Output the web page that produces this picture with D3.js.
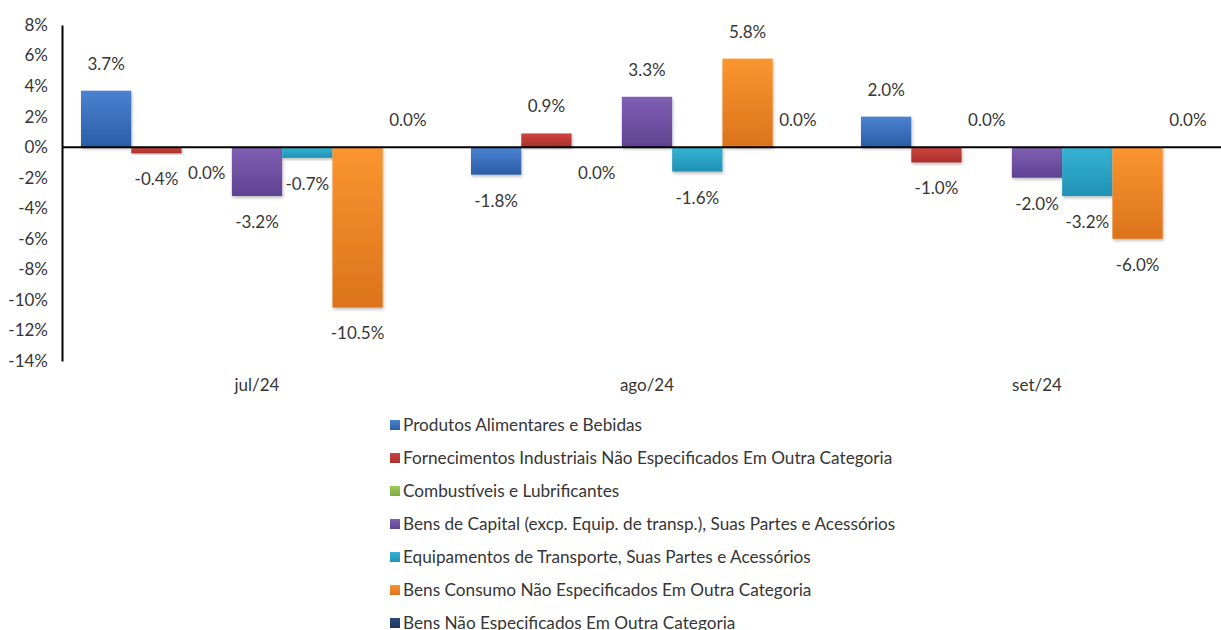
<!DOCTYPE html>
<meta charset="utf-8">
<style>
    body { margin: 0; background: #fff; }
    text { font-family: Lato, "Liberation Sans", sans-serif; fill: #363636; }
    .axis text { font-size: 17px; }
    .axis path { stroke: #000; stroke-width: 2; }
    .value { font-size: 17px; }
    .cat { font-size: 17px; }
    .legend text { font-size: 17.2px; }
</style>
<body>
<script src="https://cdn.jsdelivr.net/npm/d3@7"></script>
<script>

    var months = ["jul/24", "ago/24", "set/24"];

    var series = [
        "Produtos Alimentares e Bebidas",
        "Fornecimentos Industriais Não Especificados Em Outra Categoria",
        "Combustíveis e Lubrificantes",
        "Bens de Capital (excp. Equip. de transp.), Suas Partes e Acessórios",
        "Equipamentos de Transporte, Suas Partes e Acessórios",
        "Bens Consumo Não Especificados Em Outra Categoria",
        "Bens Não Especificados Em Outra Categoria"
    ];

    // one array per month, in series order (0.0 values keep the side their label sits on)
    var jul = [3.7, -0.4, -0.01, -3.2, -0.7, -10.5, 0.01];
    var ago = [-1.8, 0.9, -0.01, 3.3, -1.6, 5.8, 0.01];
    var set = [2.0, -1.0, 0.01, -2.0, -3.2, -6.0, 0.01];

    var yTicks = [-14, -12, -10, -8, -6, -4, -2, 0, 2, 4, 6, 8];

    var colors = [
        ["#4b82d0", "#2a5da6"],
        ["#d0443f", "#a8302c"],
        ["#9cc85a", "#7fae3e"],
        ["#8060b4", "#5f4290"],
        ["#35b3d4", "#2192b4"],
        ["#fb9530", "#dc731c"],
        ["#284a7e", "#1a355e"]
    ];

    var values = [jul, ago, set];

    var width = 1221, height = 630;

    var y = d3.scaleLinear()
            .domain([-14, 8])
            .range([361, 25]);

    var x0 = d3.scaleBand()
            .domain(months)
            .range([62, 62 + 3 * 390]);

    var x1 = d3.scaleBand()
            .domain(d3.range(series.length))
            .range([19, 371]);

    var svg = d3.select("body").append("svg")
            .attr("width", width)
            .attr("height", height);

    var defs = svg.append("defs");

    colors.forEach(function(c, i) {
        var g = defs.append("linearGradient")
                .attr("id", "grad" + i)
                .attr("x1", 0).attr("y1", 0).attr("x2", 0).attr("y2", 1);
        g.append("stop").attr("offset", "0%").attr("stop-color", c[0]);
        g.append("stop").attr("offset", "100%").attr("stop-color", c[1]);
    });

    defs.append("filter")
            .attr("id", "shadow")
            .attr("x", "-20%").attr("y", "-20%")
            .attr("width", "140%").attr("height", "140%")
        .append("feDropShadow")
            .attr("dx", 1).attr("dy", 2)
            .attr("stdDeviation", 1.5)
            .attr("flood-color", "#000")
            .attr("flood-opacity", 0.25);

    var fmt = function(v) { return Math.abs(v).toFixed(1) === "0.0" ? "0.0%" : v.toFixed(1) + "%"; };

    var groups = svg.append("g")
            .selectAll("g")
            .data(months)
        .enter().append("g")
            .attr("transform", function(m) { return "translate(" + x0(m) + ",0)"; });

    groups.selectAll("rect")
            .data(function(m, mi) { return values[mi].map(function(v, si) { return {s: si, v: v}; }); })
        .enter().append("rect")
            .attr("x", function(d) { return x1(d.s); })
            .attr("y", function(d) { return y(Math.max(0, d.v)); })
            .attr("width", x1.bandwidth())
            .attr("height", function(d) { return Math.abs(y(d.v) - y(0)); })
            .attr("fill", function(d) { return "url(#grad" + d.s + ")"; })
            .attr("filter", "url(#shadow)");

    groups.selectAll("text.value")
            .data(function(m, mi) { return values[mi].map(function(v, si) { return {s: si, v: v}; }); })
        .enter().append("text")
            .attr("class", "value")
            .attr("x", function(d) { return x1(d.s) + x1.bandwidth() / 2; })
            .attr("y", function(d) { return d.v >= 0 ? y(d.v) - 27 : y(d.v) + 26; })
            .attr("dy", "0.35em")
            .attr("text-anchor", "middle")
            .text(function(d) { return fmt(d.v); });

    // zero line
    svg.append("line")
            .attr("x1", 62).attr("x2", width)
            .attr("y1", y(0)).attr("y2", y(0))
            .attr("stroke", "#000")
            .attr("stroke-width", 2);

    var yAxis = d3.axisLeft(y)
            .tickValues(yTicks)
            .tickSize(0)
            .tickSizeOuter(0)
            .tickPadding(14)
            .tickFormat(function(d) { return d + "%"; });

    svg.append("g")
            .attr("class", "axis")
            .attr("transform", "translate(62,0)")
            .call(yAxis);

    svg.append("g")
            .selectAll("text")
            .data(months)
        .enter().append("text")
            .attr("class", "cat")
            .attr("x", function(m) { return x0(m) + x0.bandwidth() / 2; })
            .attr("y", 385)
            .attr("dy", "0.35em")
            .attr("text-anchor", "middle")
            .text(function(m) { return m; });

    var legend = svg.append("g")
            .attr("class", "legend")
            .selectAll("g")
            .data(series)
        .enter().append("g")
            .attr("transform", function(s, i) { return "translate(390," + (425 + i * 33) + ")"; });

    legend.append("rect")
            .attr("x", 0).attr("y", -5)
            .attr("width", 10).attr("height", 10)
            .attr("fill", function(s, i) { return "url(#grad" + i + ")"; });

    legend.append("text")
            .attr("x", 13)
            .attr("dy", "0.35em")
            .text(function(s) { return s; });

</script>
